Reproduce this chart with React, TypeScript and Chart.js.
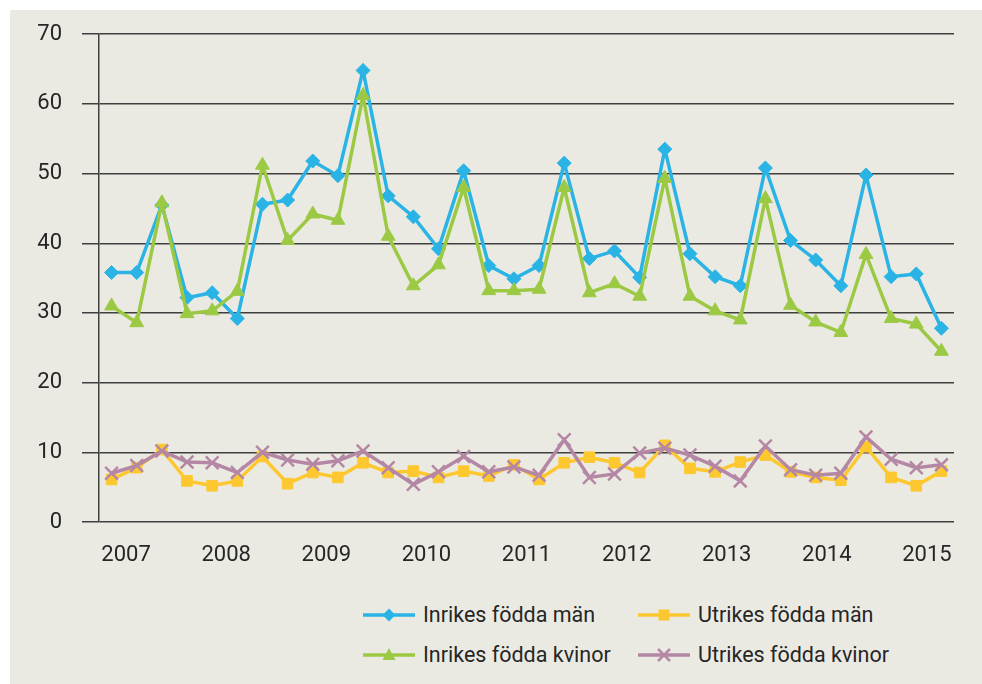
import React, { useEffect, useRef } from 'react';
import { Chart, registerables } from 'chart.js';

Chart.register(...registerables);

const quarters = [
  '2007 K1', '2007 K2', '2007 K3', '2007 K4',
  '2008 K1', '2008 K2', '2008 K3', '2008 K4',
  '2009 K1', '2009 K2', '2009 K3', '2009 K4',
  '2010 K1', '2010 K2', '2010 K3', '2010 K4',
  '2011 K1', '2011 K2', '2011 K3', '2011 K4',
  '2012 K1', '2012 K2', '2012 K3', '2012 K4',
  '2013 K1', '2013 K2', '2013 K3', '2013 K4',
  '2014 K1', '2014 K2', '2014 K3', '2014 K4',
  '2015 K1', '2015 K2',
];

const yearTicks = [2007, 2008, 2009, 2010, 2011, 2012, 2013, 2014, 2015];

const inrikesMan = [35.8, 35.8, 45.5, 32.2, 32.9, 29.2, 45.6, 46.2, 51.8, 49.7, 64.8, 46.8, 43.8, 39.2, 50.4, 36.8, 34.9, 36.8, 51.5, 37.8, 38.9, 35.1, 53.5, 38.5, 35.2, 33.9, 50.8, 40.4, 37.6, 33.9, 49.8, 35.2, 35.6, 27.8];
const inrikesKvinnor = [31.0, 28.6, 45.8, 29.9, 30.3, 33.1, 51.2, 40.4, 44.2, 43.3, 61.2, 41.0, 33.9, 36.9, 48.0, 33.2, 33.2, 33.4, 48.0, 32.9, 34.2, 32.4, 49.3, 32.4, 30.3, 29.0, 46.4, 31.1, 28.7, 27.2, 38.4, 29.2, 28.4, 24.5];
const utrikesMan = [6.1, 7.8, 10.4, 5.9, 5.2, 5.9, 9.4, 5.5, 7.1, 6.4, 8.5, 7.1, 7.3, 6.4, 7.3, 6.6, 8.2, 6.1, 8.5, 9.3, 8.5, 7.1, 11.0, 7.7, 7.2, 8.6, 9.6, 7.2, 6.4, 6.0, 10.8, 6.4, 5.2, 7.3];
const utrikesKvinnor = [7.0, 8.1, 10.2, 8.6, 8.5, 7.1, 10.0, 8.9, 8.3, 8.8, 10.2, 7.8, 5.4, 7.2, 9.4, 7.2, 7.9, 6.7, 11.8, 6.4, 6.9, 9.9, 10.6, 9.6, 8.0, 5.9, 10.9, 7.5, 6.7, 7.0, 12.2, 9.0, 7.8, 8.2];

const seriesNames = ['Inrikes födda män', 'Inrikes födda kvinor', 'Utrikes födda män', 'Utrikes födda kvinor'];

const BLUE = '#2AB3E5';
const GREEN = '#9CC944';
const YELLOW = '#FDC82F';
const PURPLE = '#B487A5';
const BG = '#EBEAE2';
const GRID = '#3f3f3f';
const TEXT = '#262626';

const W = 972;
const H = 570;
const CANVAS_TOP = -9;
const AREA_LEFT = 89;
const AREA_RIGHT = 944;
const AREA_TOP = 14;
const AREA_BOTTOM = 521;

function LegendItem(props: { left: number; top: number; color: string; kind: string; label: string }) {
  const { left, top, color, kind, label } = props;
  let marker: any = null;
  if (kind === 'diamond') {
    marker = <polygon points="26,8.5 32.5,15 26,21.5 19.5,15" fill={color} />;
  } else if (kind === 'triangle') {
    marker = <polygon points="26,8 32.5,20 19.5,20" fill={color} />;
  } else if (kind === 'square') {
    marker = <rect x={20.5} y={9.5} width={11} height={11} fill={color} />;
  } else {
    marker = (
      <g stroke={color} strokeWidth={2.5}>
        <line x1={20} y1={9} x2={32} y2={21} />
        <line x1={32} y1={9} x2={20} y2={21} />
      </g>
    );
  }
  return (
    <div style={{ position: 'absolute', left, top: top - 15, height: 30, display: 'flex', alignItems: 'center' }}>
      <svg width={52} height={30} style={{ display: 'block' }}>
        <line x1={0} y1={15} x2={52} y2={15} stroke={color} strokeWidth={3.5} />
        {marker}
      </svg>
      <span style={{ marginLeft: 8, fontFamily: 'Roboto', fontSize: 21.5, color: TEXT, whiteSpace: 'nowrap', lineHeight: '30px' }}>
        {label}
      </span>
    </div>
  );
}

export default function App() {
  const canvasRef = useRef<HTMLCanvasElement | null>(null);

  useEffect(() => {
    const canvas = canvasRef.current;
    if (!canvas) return;
    const chart = new Chart(canvas, {
      type: 'line',
      data: {
        labels: quarters,
        datasets: [
          {
            label: seriesNames[0],
            data: inrikesMan,
            borderColor: BLUE,
            backgroundColor: BLUE,
            borderWidth: 3.5,
            pointStyle: 'rectRot',
            pointRadius: 7,
            pointBorderWidth: 1,
            tension: 0,
            order: 2,
          },
          {
            label: seriesNames[1],
            data: inrikesKvinnor,
            borderColor: GREEN,
            backgroundColor: GREEN,
            borderWidth: 3.5,
            pointStyle: 'triangle',
            pointRadius: 8,
            pointBorderWidth: 1,
            tension: 0,
            order: 1,
          },
          {
            label: seriesNames[2],
            data: utrikesMan,
            borderColor: YELLOW,
            backgroundColor: YELLOW,
            borderWidth: 3.5,
            pointStyle: 'rect',
            pointRadius: 7.5,
            pointBorderWidth: 1,
            tension: 0,
            order: 4,
          },
          {
            label: seriesNames[3],
            data: utrikesKvinnor,
            borderColor: PURPLE,
            backgroundColor: PURPLE,
            borderWidth: 3.5,
            pointStyle: 'crossRot',
            pointRadius: 9,
            pointBorderWidth: 2.5,
            tension: 0,
            order: 3,
          },
        ],
      },
      options: {
        responsive: false,
        animation: false,
        events: [],
        layout: {
          padding: { left: 0, right: W - AREA_RIGHT, top: AREA_TOP, bottom: 0 },
        },
        plugins: {
          legend: { display: false },
          tooltip: { enabled: false },
        },
        scales: {
          x: {
            type: 'category',
            display: false,
            offset: true,
          },
          xYears: {
            type: 'linear',
            position: 'bottom',
            min: 2006.73,
            max: 2015.27,
            grid: { display: false },
            border: { display: false },
            afterBuildTicks: (scale: any) => {
              scale.ticks = yearTicks.map((v) => ({ value: v }));
            },
            afterFit: (scale: any) => {
              scale.height = H - AREA_BOTTOM;
            },
            ticks: {
              autoSkip: false,
              maxRotation: 0,
              padding: 12,
              color: TEXT,
              font: { family: 'Roboto', size: 22 },
              callback: (v: any) => String(v),
            },
          },
          y: {
            min: 0,
            max: 70,
            afterFit: (scale: any) => {
              scale.width = AREA_LEFT;
            },
            ticks: {
              stepSize: 10,
              padding: 20,
              color: TEXT,
              font: { family: 'Roboto', size: 22 },
            },
            grid: {
              color: GRID,
              lineWidth: 1.5,
              tickLength: 17,
              tickColor: GRID,
            },
            border: { display: true, color: GRID, width: 1.5 },
          },
        },
      },
    } as any);
    return () => chart.destroy();
  }, []);

  return (
    <div style={{ position: 'absolute', left: 0, top: 0, width: 982, height: 684, background: '#ffffff', overflow: 'hidden' }}>
      <div style={{ position: 'absolute', left: 10, top: 10, width: W, height: 674, background: BG, overflow: 'hidden' }}>
        <canvas ref={canvasRef} width={W} height={H} style={{ position: 'absolute', left: 0, top: CANVAS_TOP, width: W, height: H }} />
        <LegendItem left={353} top={605} color={BLUE} kind="diamond" label={seriesNames[0]} />
        <LegendItem left={628} top={605} color={YELLOW} kind="square" label={seriesNames[2]} />
        <LegendItem left={353} top={645} color={GREEN} kind="triangle" label={seriesNames[1]} />
        <LegendItem left={628} top={645} color={PURPLE} kind="crossRot" label={seriesNames[3]} />
      </div>
    </div>
  );
}
